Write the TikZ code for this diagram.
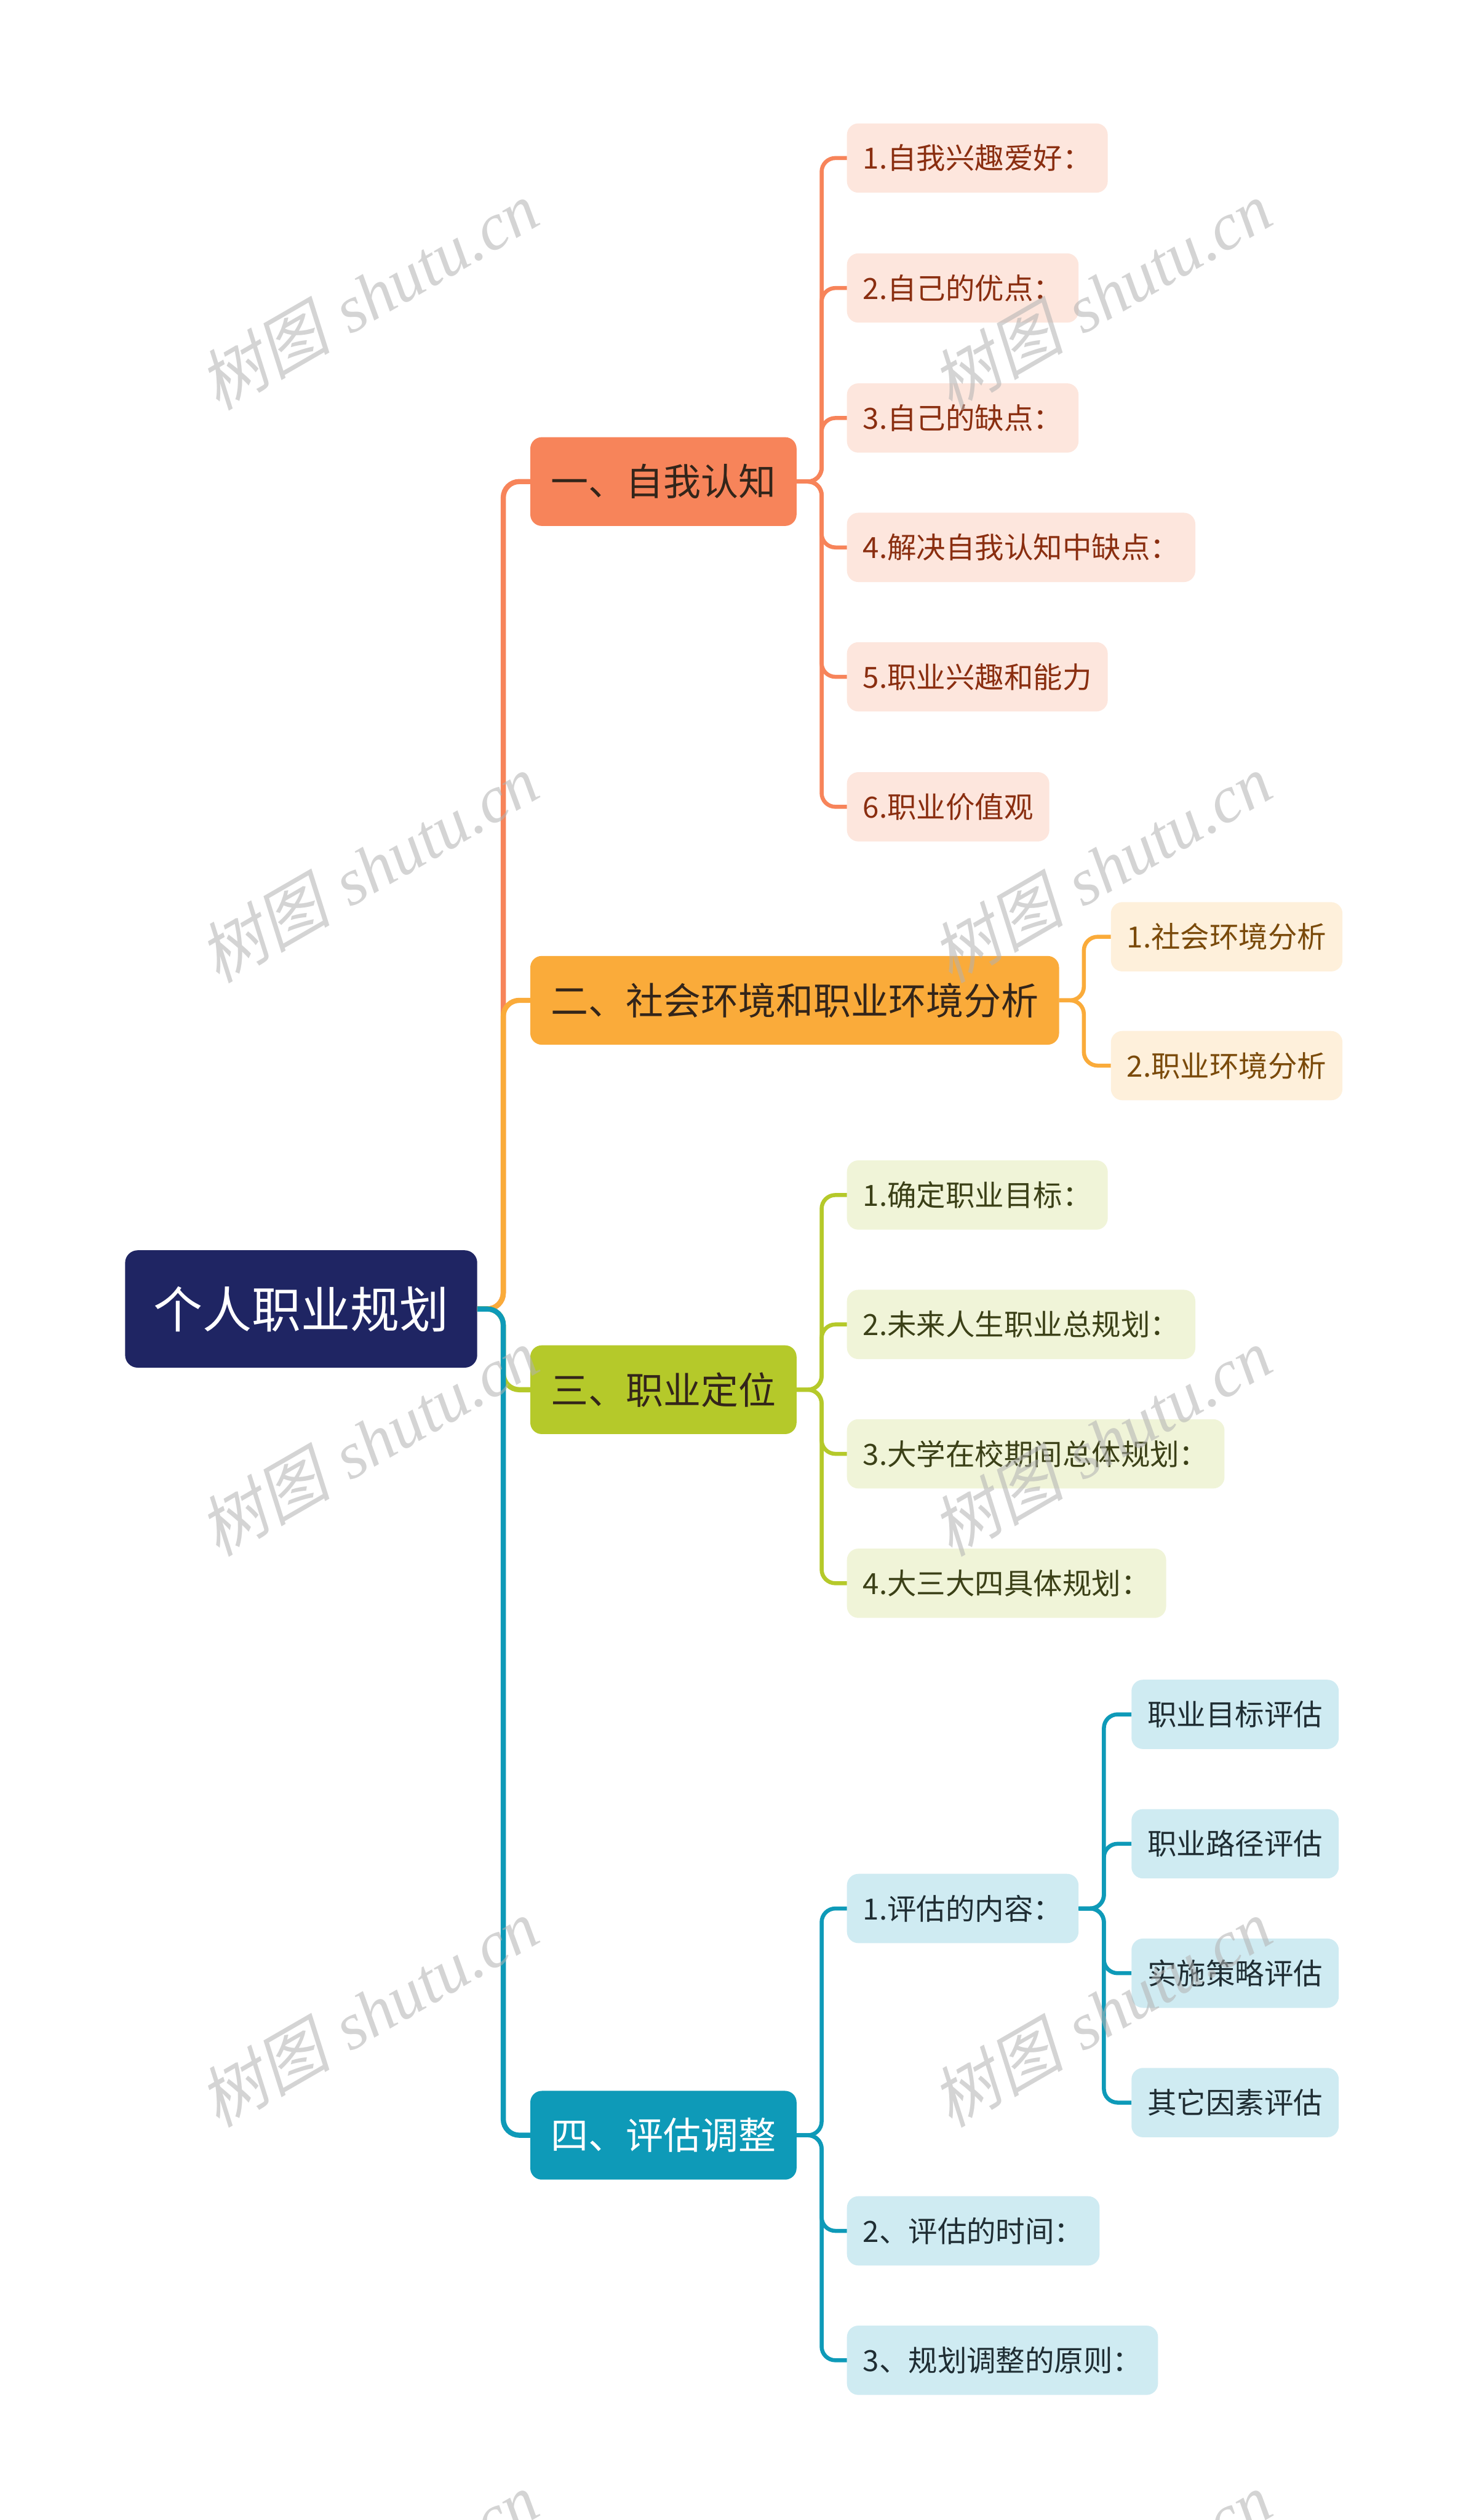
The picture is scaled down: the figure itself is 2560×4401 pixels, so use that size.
\documentclass[tikz,border=0pt]{standalone}
\usepackage{fontspec}
\setmainfont{Noto Sans CJK SC}
\newfontfamily\wmlatin{Liberation Serif}[ItalicFont=*-Italic]
\newfontfamily\cjkwm[FakeSlant=0.22]{Noto Sans CJK SC}
\definecolor{rootfill}{HTML}{1F2563}
\definecolor{cA}{HTML}{F7845A}
\definecolor{cAl}{HTML}{FDE6DD}
\definecolor{cAt}{HTML}{8A2E10}
\definecolor{cB}{HTML}{FAAB3A}
\definecolor{cBl}{HTML}{FEF0DB}
\definecolor{cBt}{HTML}{7A4A0A}
\definecolor{cC}{HTML}{B5C92A}
\definecolor{cCl}{HTML}{F0F4D8}
\definecolor{cCt}{HTML}{3B4017}
\definecolor{cD}{HTML}{0E9AB8}
\definecolor{cDl}{HTML}{CFEBF2}
\definecolor{cDt}{HTML}{1F2D33}
\definecolor{maintext}{HTML}{33251A}
\tikzset{
  rootbox/.style={fill=rootfill, text=white, rounded corners=22pt, minimum width=615pt, minimum height=205pt, inner sep=0pt, font=\fontsize{86}{100}\selectfont},
  mainbox/.style={anchor=west, rounded corners=20pt, minimum height=155pt, inner xsep=36pt, inner ysep=0pt, font=\fontsize{65.5}{78}\selectfont},
  kidbox/.style={anchor=west, rounded corners=20pt, minimum height=121pt, inner xsep=28pt, inner ysep=0pt, font=\fontsize{51}{60}\selectfont},
  mainline/.style={line width=9pt, rounded corners=28pt},
  kidline/.style={line width=7pt, rounded corners=24pt},
  wm/.style={rotate=30, text=black!30, opacity=0.55, font=\fontsize{116}{130}\selectfont}
}
\begin{document}
\begin{tikzpicture}[x=1pt,y=-1pt]
\useasboundingbox (0,0) rectangle (2560,4401);
\fill[white] (0,0) rectangle (2560,4401);
\clip (0,0) rectangle (2560,4401);

% root
\node[rootbox] (root) at (526,2286) {个人职业规划};
\coordinate (trunk) at (879,2286);

% main nodes
\node[mainbox, fill=cA, text=maintext] (m1) at (926,841) {一、自我认知};
\node[mainbox, fill=cB, text=maintext] (m2) at (926,1747) {二、社会环境和职业环境分析};
\node[mainbox, fill=cC, text=maintext] (m3) at (926,2427) {三、职业定位};
\node[mainbox, fill=cD, text=white] (m4) at (926,3729) {四、评估调整};

% main connectors
\draw[mainline, cA] (root.east) -- (trunk) |- (m1.west);
\draw[mainline, cB] (root.east) -- (trunk) |- (m2.west);
\draw[mainline, cC] (root.east) -- (trunk) |- (m3.west);
\draw[mainline, cD] (root.east) -- (trunk) |- (m4.west);

% branch 1
\coordinate (j1) at (1435,841);
\node[kidbox, fill=cAl, text=cAt] (a1) at (1479,276) {1.自我兴趣爱好：};
\node[kidbox, fill=cAl, text=cAt] (a2) at (1479,503) {2.自己的优点：};
\node[kidbox, fill=cAl, text=cAt] (a3) at (1479,730) {3.自己的缺点：};
\node[kidbox, fill=cAl, text=cAt] (a4) at (1479,956) {4.解决自我认知中缺点：};
\node[kidbox, fill=cAl, text=cAt] (a5) at (1479,1182) {5.职业兴趣和能力};
\node[kidbox, fill=cAl, text=cAt] (a6) at (1479,1409) {6.职业价值观};
\foreach \k in {a1,a2,a3,a4,a5,a6}{
  \draw[kidline, cA] (m1.east) -- (j1) |- (\k.west);
}

% branch 2
\coordinate (j2) at (1893,1747);
\node[kidbox, fill=cBl, text=cBt] (b1) at (1940,1636) {1.社会环境分析};
\node[kidbox, fill=cBl, text=cBt] (b2) at (1940,1861) {2.职业环境分析};
\foreach \k in {b1,b2}{
  \draw[kidline, cB] (m2.east) -- (j2) |- (\k.west);
}

% branch 3
\coordinate (j3) at (1435,2427);
\node[kidbox, fill=cCl, text=cCt] (c1) at (1479,2087) {1.确定职业目标：};
\node[kidbox, fill=cCl, text=cCt] (c2) at (1479,2313) {2.未来人生职业总规划：};
\node[kidbox, fill=cCl, text=cCt] (c3) at (1479,2539) {3.大学在校期间总体规划：};
\node[kidbox, fill=cCl, text=cCt] (c4) at (1479,2765) {4.大三大四具体规划：};
\foreach \k in {c1,c2,c3,c4}{
  \draw[kidline, cC] (m3.east) -- (j3) |- (\k.west);
}

% branch 4
\coordinate (j4) at (1435,3729);
\node[kidbox, fill=cDl, text=cDt] (d1) at (1479,3333) {1.评估的内容：};
\node[kidbox, fill=cDl, text=cDt] (d2) at (1479,3896) {2、评估的时间：};
\node[kidbox, fill=cDl, text=cDt] (d3) at (1479,4122) {3、规划调整的原则：};
\foreach \k in {d1,d2,d3}{
  \draw[kidline, cD] (m4.east) -- (j4) |- (\k.west);
}

% branch 4.1
\coordinate (j5) at (1928,3333);
\node[kidbox, fill=cDl, text=cDt] (e1) at (1976,2994) {职业目标评估};
\node[kidbox, fill=cDl, text=cDt] (e2) at (1976,3220) {职业路径评估};
\node[kidbox, fill=cDl, text=cDt] (e3) at (1976,3446) {实施策略评估};
\node[kidbox, fill=cDl, text=cDt] (e4) at (1976,3672) {其它因素评估};
\foreach \k in {e1,e2,e3,e4}{
  \draw[kidline, cD] (d1.east) -- (j5) |- (\k.west);
}

% watermarks
\foreach \wy in {516,1516,2518,3515,4517}{
  \foreach \wx in {643,1923}{
    \node[wm] at (\wx,\wy) {\cjkwm 树图\hspace{0.3em}\wmlatin\itshape shutu.cn};
  }
}
\end{tikzpicture}
\end{document}
